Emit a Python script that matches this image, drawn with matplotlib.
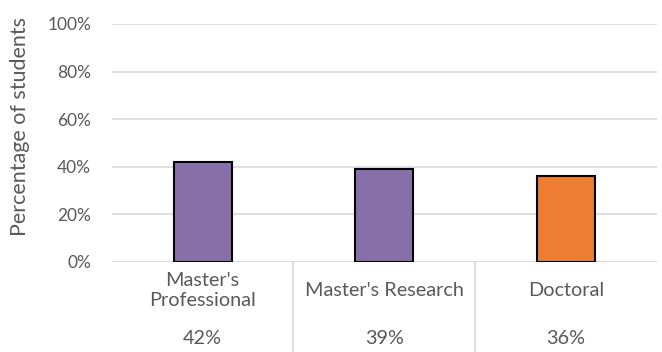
import numpy as np
import matplotlib.pyplot as plt
import matplotlib.transforms as mtransforms

plt.rcParams['font.family'] = ['Lato', 'DejaVu Sans']

categories = ["Master's\nProfessional", "Master's Research", "Doctoral"]
values = [0.42, 0.39, 0.36]
value_labels = ['42%', '39%', '36%']
colors = ['#8770AA', '#8770AA', '#ED7D31']
yticks = [0, 0.2, 0.4, 0.6, 0.8, 1.0]
ytick_labels = ['0%', '20%', '40%', '60%', '80%', '100%']

text_color = '#595959'
grid_color = '#D9D9D9'

fig = plt.figure(figsize=(6.62, 3.52), dpi=100)
ax = fig.add_axes([0.169, 0.256, 0.823, 0.676])

x = np.arange(len(categories))
ax.bar(x, values, width=0.32, color=colors, edgecolor='black', linewidth=1.5, zorder=3)

ax.set_xlim(-0.5, len(categories) - 0.5)
ax.set_ylim(0, 1.0)
ax.set_yticks(yticks)
ax.set_yticklabels(ytick_labels)
ax.set_xticks([])
ax.tick_params(axis='y', length=0, pad=15, labelsize=12.5, labelcolor=text_color)
for s in ax.spines.values():
    s.set_visible(False)
ax.grid(axis='y', color=grid_color, linewidth=1.2, zorder=0)
ax.axhline(0, color=grid_color, linewidth=1.2, zorder=1)

ax.set_ylabel('Percentage of students', fontsize=15.5, color=text_color)
ax.yaxis.set_label_coords(-0.150, 0.567)

# table-like labels below the axis
trans = mtransforms.blended_transform_factory(ax.transData, ax.transAxes)
for i, (cat, lab) in enumerate(zip(categories, value_labels)):
    ax.text(i, -0.12, cat, transform=trans, ha='center', va='center',
            fontsize=14.3, color=text_color, linespacing=1.25)
    ax.text(i, -0.324, lab, transform=trans, ha='center', va='center',
            fontsize=14.3, color=text_color)
for xs in x[:-1] + 0.5:
    ax.plot([xs, xs], [0, -0.4], transform=trans, color=grid_color,
            linewidth=1.2, clip_on=False)

fig.savefig('out.png', dpi=100)
